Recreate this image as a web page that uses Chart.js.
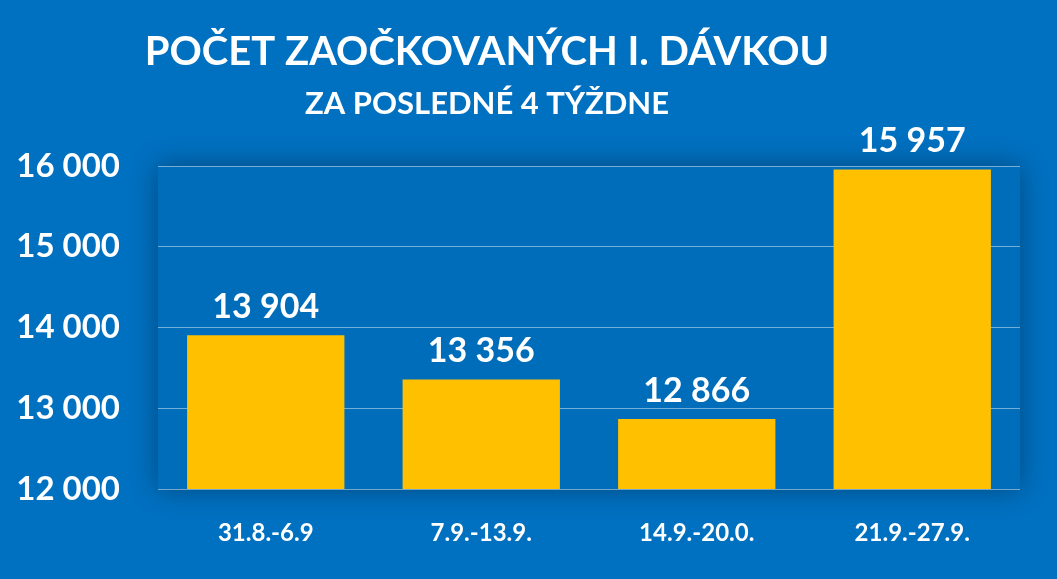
<!DOCTYPE html>
<html><head><meta charset="utf-8">
<script src="https://cdn.jsdelivr.net/npm/chart.js@4"></script>
<style>html,body{margin:0;padding:0;background:#0070C0;}#c{display:block;}</style>
</head><body>
<canvas id="c" width="1057" height="579"></canvas>
<script>
const categories = ["31.8.-6.9", "7.9.-13.9.", "14.9.-20.0.", "21.9.-27.9."];
const values = [13904, 13356, 12866, 15957];
const yTicks = [12000, 13000, 14000, 15000, 16000];
const titleText = "POČET ZAOČKOVANÝCH I. DÁVKOU";
const subtitleText = "ZA POSLEDNÉ 4 TÝŽDNE";
const fmt = v => String(v).replace(/\B(?=(\d{3})+(?!\d))/g, " ");
const FONT = "Lato, 'Open Sans', sans-serif";

const overlay = {
  id: 'overlay',
  beforeDraw(chart) {
    const c = chart.ctx, a = chart.chartArea;
    c.save();
    c.fillStyle = '#0070C0';
    c.fillRect(0, 0, chart.width, chart.height);
    c.shadowColor = 'rgba(0,0,0,0.35)'; c.shadowBlur = 25;
    c.fillStyle = '#006DBB';
    c.fillRect(a.left, a.top, a.right - a.left, a.bottom - a.top);
    c.restore();
  },
  afterDraw(chart) {
    const c = chart.ctx;
    c.save();
    c.fillStyle = '#fff'; c.textAlign = 'center'; c.textBaseline = 'middle';
    c.font = "bold 40px " + FONT;
    c.fillText(titleText, 487, 52);
    c.font = "bold 31px " + FONT;
    c.fillText(subtitleText, 487, 104);
    c.font = "bold 34px " + FONT;
    const meta = chart.getDatasetMeta(0);
    meta.data.forEach((b, i) => c.fillText(fmt(values[i]), b.x, b.y - 28));
    c.restore();
  }
};

new Chart(document.getElementById('c'), {
  type: 'bar',
  data: { labels: categories, datasets: [{ data: values, backgroundColor: '#FFC000', barPercentage: 0.73, categoryPercentage: 1 }] },
  options: {
    responsive: false, animation: false,
    layout: { padding: { top: 166, right: 37, left: 0, bottom: 0 } },
    plugins: { legend: { display: false }, tooltip: { enabled: false } },
    scales: {
      y: {
        min: 12000, max: 16000,
        afterBuildTicks: s => { s.ticks = yTicks.map(v => ({ value: v })); },
        afterFit: s => { s.width = 158; },
        ticks: { color: '#fff', font: { family: FONT, size: 33, weight: 'bold' }, padding: 38, callback: v => fmt(v) },
        grid: { color: 'rgba(255,255,255,0.45)', drawTicks: false },
        border: { display: false }
      },
      x: {
        afterFit: s => { s.height = 90; },
        ticks: { color: '#fff', font: { family: FONT, size: 24, weight: 'bold' }, padding: 22 },
        grid: { display: false },
        border: { display: false }
      }
    }
  },
  plugins: [overlay]
});
</script>
</body></html>
